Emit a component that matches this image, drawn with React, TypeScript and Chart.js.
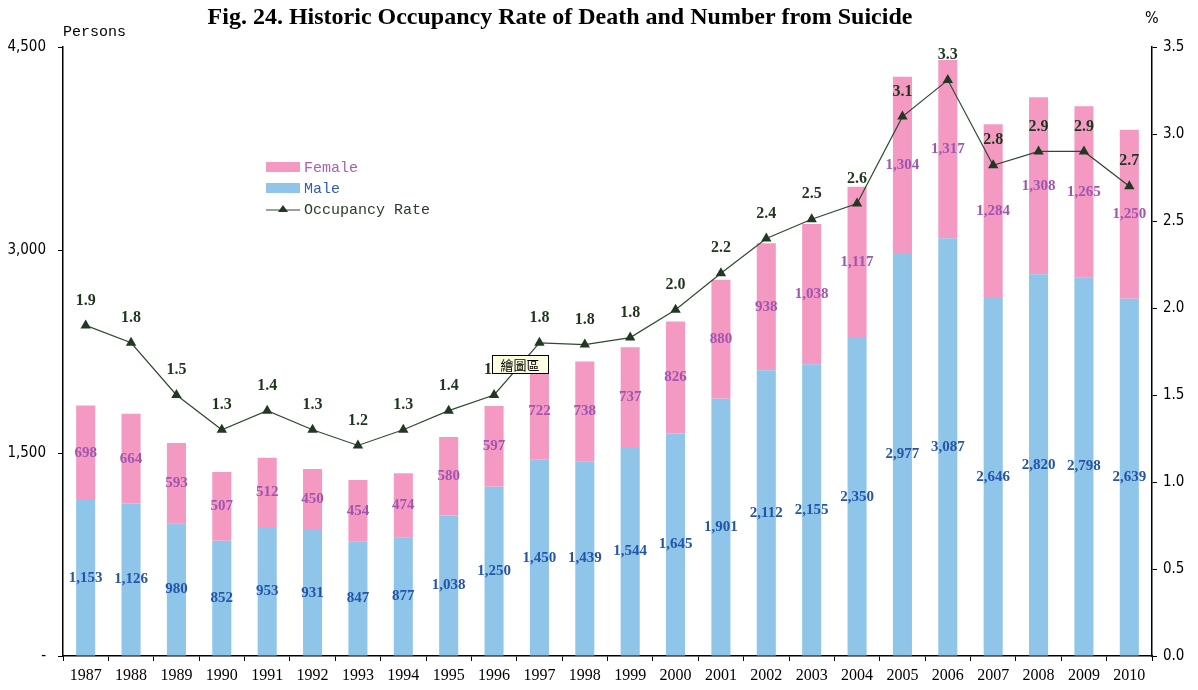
import React, { useEffect, useRef } from "react";
import { Chart, registerables } from "chart.js";

Chart.register(...registerables);

const years = ["1987","1988","1989","1990","1991","1992","1993","1994","1995","1996","1997","1998","1999","2000","2001","2002","2003","2004","2005","2006","2007","2008","2009","2010"];
const male = [1153,1126,980,852,953,931,847,877,1038,1250,1450,1439,1544,1645,1901,2112,2155,2350,2977,3087,2646,2820,2798,2639];
const female = [698,664,593,507,512,450,454,474,580,597,722,738,737,826,880,938,1038,1117,1304,1317,1284,1308,1265,1250];
const rate = [1.9,1.8,1.5,1.3,1.41,1.3,1.21,1.3,1.41,1.5,1.8,1.79,1.83,1.99,2.2,2.4,2.51,2.6,3.1,3.31,2.82,2.9,2.9,2.7];
const rateLabels = ["1.9","1.8","1.5","1.3","1.4","1.3","1.2","1.3","1.4","1.5","1.8","1.8","1.8","2.0","2.2","2.4","2.5","2.6","3.1","3.3","2.8","2.9","2.9","2.7"];
const leftTicks = [0, 1500, 3000, 4500];
const rightTicks = [0, 0.5, 1, 1.5, 2, 2.5, 3, 3.5];

const PINK = "#f49ac2";
const BLUE = "#8ec5e9";
const LINE = "#2f4a2f";
const SERIF = "'Liberation Serif', 'Times New Roman', serif";
const NARROW = "'Liberation Sans Narrow', 'DejaVu Sans Condensed', 'Liberation Sans', sans-serif";
const MONO = "'Liberation Mono', 'DejaVu Sans Mono', monospace";

const fmt = (v: number) => (v === 0 ? "-" : v.toLocaleString("en-US"));

const overlay = {
  id: "overlay",
  afterDatasetsDraw(chart: any) {
    const ctx = chart.ctx;
    ctx.save();
    ctx.textAlign = "center";
    ctx.textBaseline = "middle";
    const mMeta = chart.getDatasetMeta(0);
    const fMeta = chart.getDatasetMeta(1);
    ctx.font = `bold 15px ${SERIF}`;
    mMeta.data.forEach((el: any, i: number) => {
      ctx.fillStyle = "#2455a8";
      ctx.fillText(male[i].toLocaleString("en-US"), el.x, (el.y + el.base) / 2);
    });
    fMeta.data.forEach((el: any, i: number) => {
      ctx.fillStyle = "#a055b0";
      ctx.fillText(female[i].toLocaleString("en-US"), el.x, (el.y + el.base) / 2);
    });
    const lMeta = chart.getDatasetMeta(2);
    ctx.font = `bold 16px ${SERIF}`;
    lMeta.data.forEach((el: any, i: number) => {
      ctx.fillStyle = "#1e361e";
      ctx.fillText(rateLabels[i], el.x, el.y - 25);
    });
    ctx.restore();
  },
  afterDraw(chart: any) {
    const ctx = chart.ctx;
    ctx.save();
    ctx.fillStyle = "#000";
    ctx.textAlign = "center";
    ctx.textBaseline = "middle";
    ctx.font = `bold 24px ${SERIF}`;
    ctx.fillText("Fig. 24. Historic Occupancy Rate of Death and Number from Suicide", 560, 18);
    ctx.font = `15px ${MONO}`;
    ctx.textAlign = "left";
    ctx.fillText("Persons", 63, 32);
    ctx.font = `16px ${NARROW}`;
    ctx.fillText("%", 1145, 19);
    // legend
    ctx.font = `15px ${MONO}`;
    ctx.fillStyle = PINK;
    ctx.fillRect(266, 162, 34, 10);
    ctx.fillStyle = "#b05cb8";
    ctx.fillText("Female", 304, 168);
    ctx.fillStyle = BLUE;
    ctx.fillRect(266, 183, 34, 10);
    ctx.fillStyle = "#2f5fb0";
    ctx.fillText("Male", 304, 189);
    ctx.strokeStyle = LINE;
    ctx.lineWidth = 1.2;
    ctx.beginPath();
    ctx.moveTo(266, 210);
    ctx.lineTo(300, 210);
    ctx.stroke();
    ctx.fillStyle = "#223822";
    ctx.beginPath();
    ctx.moveTo(283, 205);
    ctx.lineTo(288, 212);
    ctx.lineTo(278, 212);
    ctx.closePath();
    ctx.fill();
    ctx.fillStyle = "#2a3f2a";
    ctx.fillText("Occupancy Rate", 304, 210);
    // tooltip artifact
    ctx.fillStyle = "#ffffe1";
    ctx.fillRect(492, 355, 56, 18);
    ctx.strokeStyle = "#000";
    ctx.lineWidth = 1;
    ctx.strokeRect(492.5, 355.5, 56, 18);
    ctx.fillStyle = "#000";
    ctx.font = `13px 'Noto Sans CJK TC', sans-serif`;
    ctx.textAlign = "center";
    ctx.fillText("繪圖區", 520, 365);
    ctx.restore();
  },
};

export default function App() {
  const ref = useRef<HTMLCanvasElement>(null);
  useEffect(() => {
    document.body.style.margin = "0";
    const chart = new Chart(ref.current!, {
      type: "bar",
      data: {
        labels: years,
        datasets: [
          { label: "Male", data: male, backgroundColor: BLUE, yAxisID: "y", stack: "s", order: 2, barPercentage: 0.42, categoryPercentage: 1 },
          { label: "Female", data: female, backgroundColor: PINK, yAxisID: "y", stack: "s", order: 2, barPercentage: 0.42, categoryPercentage: 1 },
          {
            type: "line", label: "Occupancy Rate", data: rate, yAxisID: "y1", order: 0,
            borderColor: LINE, borderWidth: 1.2, pointStyle: "triangle", pointRadius: 6,
            pointBackgroundColor: "#223822", pointBorderColor: "#223822", pointBorderWidth: 0, tension: 0,
          } as any,
        ],
      },
      options: {
        responsive: false,
        animation: false,
        layout: { padding: { top: 47, left: 0, right: 0, bottom: 0 } },
        plugins: { legend: { display: false }, tooltip: { enabled: false }, title: { display: false } },
        scales: {
          x: {
            stacked: true,
            grid: { display: true, drawOnChartArea: false, drawTicks: true, tickLength: 5, color: "#000", offset: true },
            border: { display: true, color: "#000", width: 1.5 },
            ticks: { color: "#000", font: { family: SERIF, size: 16 }, padding: 5, maxRotation: 0, autoSkip: false },
            afterFit: (s: any) => { s.height = 34; },
          },
          y: {
            stacked: true,
            position: "left",
            min: 0, max: 4500,
            afterBuildTicks: (s: any) => { s.ticks = leftTicks.map((v) => ({ value: v })); },
            grid: { display: true, drawOnChartArea: false, drawTicks: true, tickLength: 5, color: "#000" },
            border: { display: true, color: "#000", width: 1.5 },
            ticks: { color: "#000", font: { family: NARROW, size: 15 }, padding: 12, callback: (v: any) => fmt(Number(v)) },
            afterFit: (s: any) => { s.width = 63; },
          },
          y1: {
            position: "right",
            min: 0, max: 3.5,
            afterBuildTicks: (s: any) => { s.ticks = rightTicks.map((v) => ({ value: v })); },
            grid: { display: true, drawOnChartArea: false, drawTicks: true, tickLength: 5, color: "#000" },
            border: { display: true, color: "#000", width: 1.5 },
            ticks: { color: "#000", font: { family: NARROW, size: 15 }, padding: 6, callback: (v: any) => Number(v).toFixed(1) },
            afterFit: (s: any) => { s.width = 46; },
          },
        },
      },
      plugins: [overlay],
    });
    return () => chart.destroy();
  }, []);
  return <canvas ref={ref} width={1198} height={690} style={{ display: "block" }} />;
}
